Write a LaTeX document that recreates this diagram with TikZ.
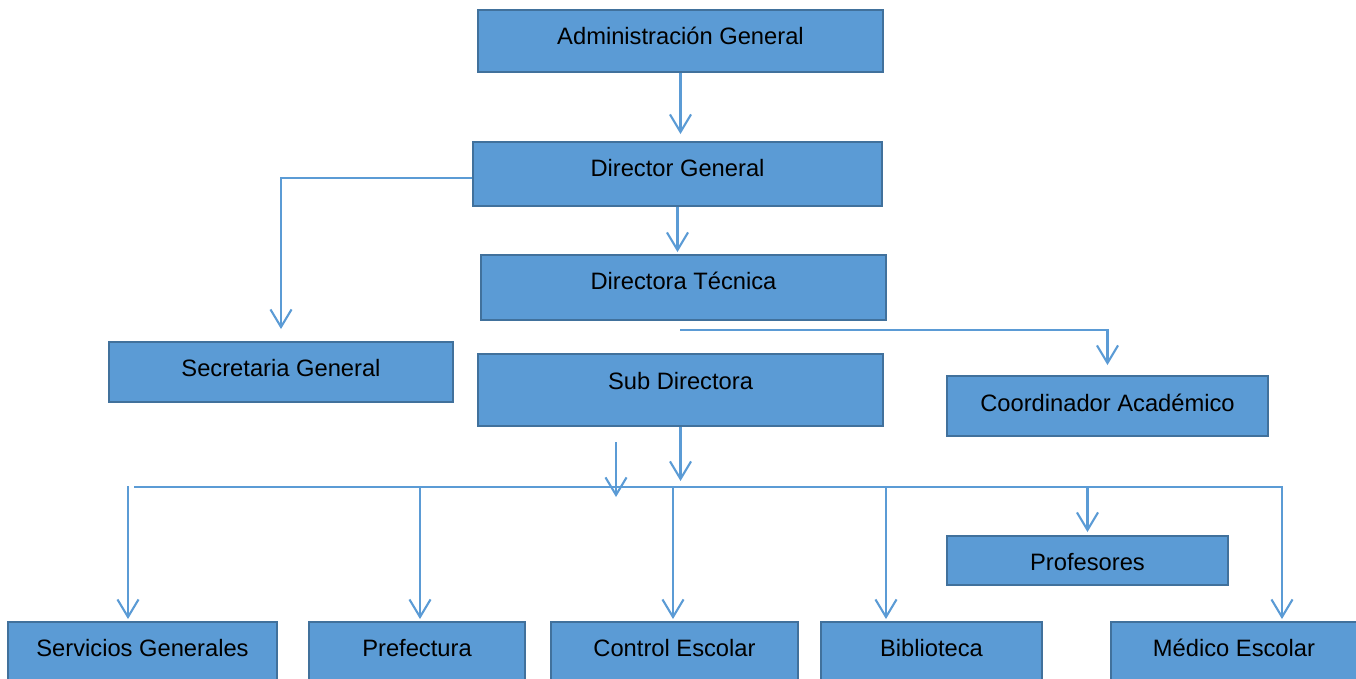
\documentclass[tikz,border=0pt]{standalone}
\usepackage{fontspec}
\setmainfont{Liberation Sans}
\usepackage{xcolor}
\usepackage{tikz}
\usetikzlibrary{calc}
\usetikzlibrary{arrows.meta,positioning}

\definecolor{boxblue}{HTML}{5B9BD5}
\definecolor{edgeblue}{HTML}{41719C}

\tikzset{
  box/.style={draw=edgeblue, fill=boxblue, line width=1.1pt, inner sep=0pt,
    text height=10pt, font=\fontsize{13.5}{16}\selectfont},
  link/.style={draw=boxblue, line width=1.2pt, -{Straight Barb[length=10pt,width=12pt]}},
  plain/.style={draw=boxblue, line width=1.2pt},
}

\begin{document}
\begin{tikzpicture}[x=0.02cm, y=-0.02cm]
\useasboundingbox (0,0) rectangle (1356,679);
\clip (0,0) rectangle (1356,679);

% Top chain
\node[box, minimum width=8.1cm, minimum height=1.24cm, text depth=5.9pt] (admin) at (680.5,41) {Administración General};
\node[box, minimum width=8.18cm, minimum height=1.28cm, text depth=7pt] (dg) at (677.5,174) {Director General};
\node[box, minimum width=8.1cm, minimum height=1.3cm, text depth=7.6pt] (dt) at (683.5,287.5) {Directora Técnica};

% Middle row
\node[box, minimum width=6.88cm, minimum height=1.2cm, text depth=4.8pt] (sec) at (281,372) {Secretaria General};
\node[box, minimum width=8.1cm, minimum height=1.44cm, text depth=10.4pt] (sd) at (680.5,390) {Sub Directora};
\node[box, minimum width=6.42cm, minimum height=1.2cm, text depth=3.6pt] (coord) at (1107.5,406) {Coordinador Académico};
\node[box, minimum width=5.62cm, minimum height=0.98cm, text height=11.5pt, text depth=0pt] (prof) at (1087.5,560.5) {Profesores};

% Bottom row
\node[box, minimum width=5.38cm, minimum height=1.28cm, text depth=7pt] (serv) at (142.5,654) {Servicios Generales};
\node[box, minimum width=4.32cm, minimum height=1.28cm, text depth=7pt] (pref) at (417,654) {Prefectura};
\node[box, minimum width=4.94cm, minimum height=1.28cm, text depth=7pt] (ctrl) at (674.5,654) {Control Escolar};
\node[box, minimum width=4.42cm, minimum height=1.28cm, text depth=7pt] (bib) at (931.5,654) {Biblioteca};
\node[box, minimum width=4.92cm, minimum height=1.28cm, text depth=7pt] (med) at (1234,654) {Médico Escolar};

% Free ends
\coordinate (dtout) at (680,330);
\coordinate (strayA) at (616,442);
\coordinate (strayB) at (616,497);
\coordinate (busL) at (134,487);
\coordinate (busR) at (1282,487);

% Connectors
\draw[link, shorten >=0.14cm] (admin.south) -- (admin.south |- dg.north);
\draw[link, shorten >=0.04cm] (dg.south) -- (dg.south |- dt.north);
\draw[link, shorten >=0.24cm] ($(dg.west)+(0,4)$) -| (sec.north);
\draw[link, shorten >=0.2cm] (dtout) -| (coord.north);
\draw[link, shorten >=0.12cm] (sd.south) -- (sd.south |- busL);
\draw[link] (strayA) -- (strayB);

% Bus and drops
\draw[plain] (busL) -- (busR);
\foreach \n/\dx in {serv/-14.5, pref/3, ctrl/-1.5, bib/-45.5, med/48}
  \draw[link] ($(\n.north)+(\dx,-135)$) -- ($(\n.north)+(\dx,-2)$);
\draw[link, shorten >=0.06cm] (prof.north |- busL) -- (prof.north);
\end{tikzpicture}
\end{document}
